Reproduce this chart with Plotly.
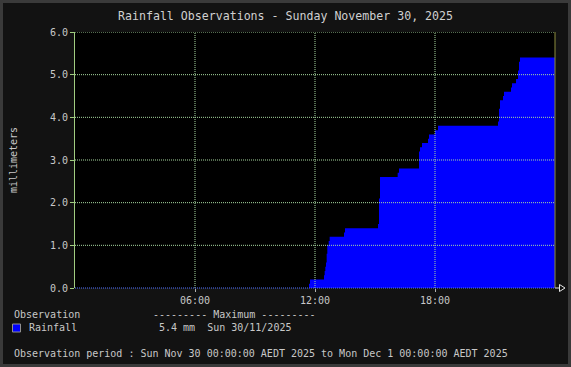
import plotly.graph_objects as go

# ---- data ----
times = ["00:00", "11:42", "11:45", "12:27", "12:29", "12:31", "12:33", "12:35", "12:37",
         "12:41", "12:44", "13:27", "13:30", "15:09", "15:12", "15:15", "16:08", "16:12",
         "17:12", "17:15", "17:21", "17:39", "17:42", "18:00", "18:09", "21:09", "21:12",
         "21:15", "21:24", "21:27", "21:48", "21:51", "22:03", "22:09", "22:12", "22:15"]
rain_mm = [0.0, 0.1, 0.2, 0.3, 0.4, 0.5, 0.6, 0.8, 1.0,
           1.1, 1.2, 1.3, 1.4, 1.5, 2.1, 2.6, 2.7, 2.8,
           3.2, 3.3, 3.4, 3.5, 3.6, 3.7, 3.8, 3.9, 4.2,
           4.4, 4.5, 4.6, 4.7, 4.8, 4.9, 5.1, 5.3, 5.4]
day = "2025-11-30"
day_end = "2025-12-01 00:00"
tick_vals = ["2025-11-30 06:00", "2025-11-30 12:00", "2025-11-30 18:00"]
tick_text = ["06:00", "12:00", "18:00"]
y_ticks = [0, 1, 2, 3, 4, 5, 6]
title = "Rainfall Observations - Sunday November 30, 2025"
period = "Observation period : Sun Nov 30 00:00:00 AEDT 2025 to Mon Dec 1 00:00:00 AEDT 2025"

x = [f"{day} {t}" for t in times] + [day_end]
y = rain_mm + [rain_mm[-1]]

# ---- layout geometry (pixels) ----
W, H = 571, 367
L, R, T, B = 75, 16, 32, 79
PW, PH = W - L - R, H - T - B
FONT = "DejaVu Sans Mono"
TXT = "#c8c8c8"
GRID = "#a8d8a0"
GDASH = "1px,1px"


def px(xp):
    return (xp - L) / PW


def py(yp):
    return (H - B - yp) / PH


fig = go.Figure()
fig.add_trace(go.Scatter(
    x=x, y=y, mode="lines", line=dict(shape="hv", width=0, color="#0000ff"),
    fill="tozeroy", fillcolor="#0000ff", name="Rainfall", showlegend=False,
    hoverinfo="x+y"))

fig.update_layout(
    width=W, height=H, margin=dict(l=L, r=R, t=T, b=B),
    paper_bgcolor="#121212", plot_bgcolor="#000000",
    font=dict(family=FONT, size=10, color=TXT),
    showlegend=False,
    xaxis=dict(type="date", range=[f"{day} 00:00", day_end], tickvals=tick_vals,
               ticktext=tick_text, showgrid=False, zeroline=False, showline=False,
               ticks="outside", ticklen=3, tickcolor="#b0b0b0",
               tickfont=dict(family=FONT, size=10, color=TXT), fixedrange=True),
    yaxis=dict(range=[0, 6], tickvals=y_ticks, ticktext=[f"{v:.1f}" for v in y_ticks],
               showgrid=False, zeroline=False, showline=True, linecolor="#a0cc80",
               linewidth=1, ticks="outside", ticklen=4, tickcolor="#a0cc80",
               tickfont=dict(family=FONT, size=10, color=TXT),
               title=dict(text="millimeters", font=dict(family=FONT, size=10, color=TXT),
                          standoff=30), fixedrange=True),
)

shapes = []
# gridlines drawn above the fill, as in the reference
for tv in tick_vals:
    shapes.append(dict(type="line", xref="x", yref="paper", x0=tv, x1=tv, y0=0, y1=1,
                       line=dict(color=GRID, width=1, dash=GDASH), layer="above"))
for yv in y_ticks[1:]:
    shapes.append(dict(type="line", xref="paper", yref="y", x0=0, x1=1, y0=yv, y1=yv,
                       line=dict(color=GRID, width=1, dash=GDASH), layer="above"))
# right frame line (olive)
shapes.append(dict(type="line", xref="paper", yref="paper", x0=1, x1=1, y0=0, y1=1,
                   line=dict(color="#8c8c3c", width=1), layer="above"))
# blue dotted baseline
shapes.append(dict(type="line", xref="paper", yref="paper", x0=0, x1=1, y0=0, y1=0,
                   line=dict(color="#5070ff", width=1, dash=GDASH), layer="above"))
# arrow at right end of x-axis
shapes.append(dict(type="line", xref="paper", yref="paper", x0=1, x1=px(559.5),
                   y0=py(288), y1=py(288), line=dict(color="#e0e0e0", width=1)))
shapes.append(dict(type="path", xref="paper", yref="paper",
                   path=f"M {px(559.5)},{py(284.5)} L {px(565)},{py(288)} L {px(559.5)},{py(291.5)} Z",
                   line=dict(color="#e8e8e8", width=1), fillcolor="#121212"))
# legend swatch
shapes.append(dict(type="rect", xref="paper", yref="paper", x0=px(12.5), x1=px(20.5),
                   y0=py(332), y1=py(324), fillcolor="#0000ff",
                   line=dict(color="#909090", width=1)))
# outer border
shapes.append(dict(type="rect", xref="paper", yref="paper", x0=px(1.5), x1=px(W - 1.5),
                   y0=py(H - 1.5), y1=py(1.5), line=dict(color="#3a3a3a", width=3),
                   fillcolor="rgba(0,0,0,0)", layer="above"))
fig.update_layout(shapes=shapes)

max_val = max(rain_mm)
anns = [
    dict(text=title, x=px(285.5), y=py(16), font=dict(family=FONT, size=11.6, color="#d0d0d0")),
    dict(text="Observation", x=px(12), y=py(314.5), xanchor="left"),
    dict(text="--------- Maximum ---------", x=px(151), y=py(314.5), xanchor="left"),
    dict(text="Rainfall", x=px(27), y=py(327.5), xanchor="left"),
    dict(text=f"{max_val:.1f} mm  Sun 30/11/2025", x=px(157), y=py(327.5), xanchor="left"),
    dict(text=period, x=px(12), y=py(353), xanchor="left"),
]
for a in anns:
    a.setdefault("xanchor", "center")
    fig.add_annotation(xref="paper", yref="paper", yanchor="middle", showarrow=False,
                       font=a.pop("font", dict(family=FONT, size=10, color=TXT)), **a)

fig.write_html("out.html")
